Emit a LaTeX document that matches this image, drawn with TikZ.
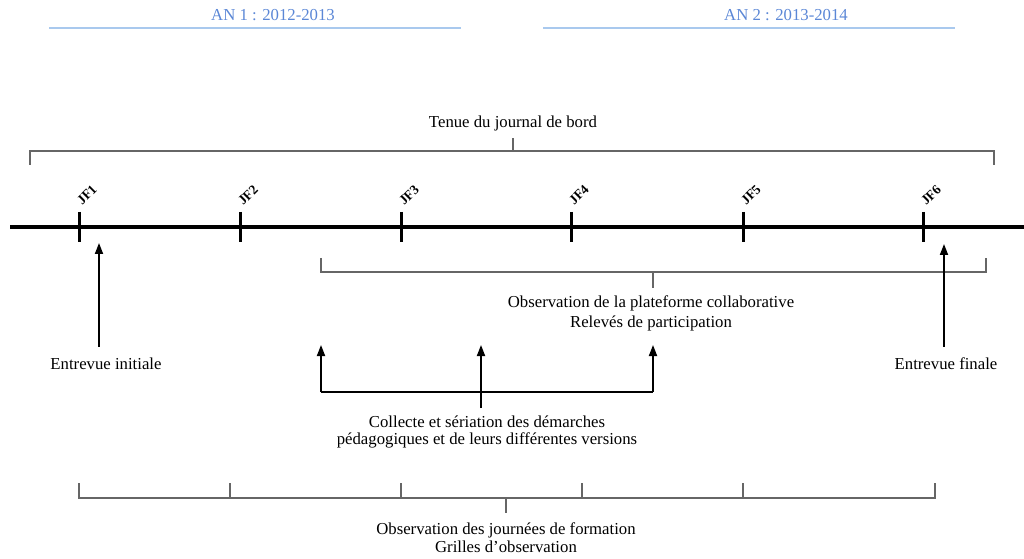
\documentclass[tikz,border=0pt]{standalone}
\usepackage{fontspec}
\setmainfont{Liberation Serif}
\usetikzlibrary{arrows.meta}
\definecolor{anblue}{HTML}{5B87D6}
\definecolor{anline}{HTML}{A9C9EE}
\definecolor{brkgray}{HTML}{666666}
\begin{document}
\begin{tikzpicture}[x=1bp,y=-1bp,
  lbl/.style={font=\fontsize{16.8}{18}\selectfont, inner sep=0pt, align=center},
  yearlbl/.style={lbl, text=anblue},
  yearline/.style={draw=anline, line width=1.2bp},
  brk/.style={draw=brkgray, line width=1.2bp},
  timeline/.style={draw=black, line width=3.5bp},
  jftick/.style={draw=black, line width=3bp},
  jflbl/.style={font=\bfseries\fontsize{13.5}{14}\selectfont, inner sep=0pt, rotate=45},
  uparrow/.style={draw=black, line width=1.8bp, -{Triangle[length=11bp,width=8bp]}},
  stem/.style={draw=black, line width=1.8bp}]
\useasboundingbox (0,0) rectangle (1024,559);

% years
\node[yearlbl] (an1) at (273,15) {AN 1 : 2012-2013};
\node[yearlbl] (an2) at (786,15) {AN 2 : 2013-2014};
\coordinate (an1L) at (49,28); \coordinate (an1R) at (461,28);
\coordinate (an2L) at (543,28); \coordinate (an2R) at (955,28);
\draw[yearline] (an1L) -- (an1R);
\draw[yearline] (an2L) -- (an2R);

% journal de bord
\node[lbl] (journal) at (513,123) {Tenue du journal de bord};
\coordinate (jbL) at (30,165); \coordinate (jbR) at (994,165);
\coordinate (jbM) at (513,151); \coordinate (jbT) at (513,138);
\draw[brk] (jbL) -- (jbL |- jbM) -- (jbR |- jbM) -- (jbR);
\draw[brk] (jbM) -- (jbT);

% timeline
\coordinate (tlL) at (10,227); \coordinate (tlR) at (1024,227);
\draw[timeline] (tlL) -- (tlR);
\foreach \i/\x in {1/79,2/240,3/401,4/571,5/743,6/923}{
  \coordinate (t\i a) at (\x,212);
  \coordinate (t\i b) at (\x,242);
  \draw[jftick] (t\i a) -- (t\i b);
  \node[jflbl] (jf\i) at (\x+8,195) {JF\i};
}

% plateforme
\coordinate (plL) at (321,258); \coordinate (plR) at (986,258);
\coordinate (plM) at (653,272); \coordinate (plB) at (653,288);
\draw[brk] (plL) -- (plL |- plM) -- (plR |- plM) -- (plR);
\draw[brk] (plM) -- (plB);
\node[lbl, font=\fontsize{16.8}{20}\selectfont] (plat) at (651,313) {Observation de la plateforme collaborative\\Relevés de participation};

% entrevues
\node[lbl] (ei) at (106,364) {Entrevue initiale};
\node[lbl] (ef) at (946,364) {Entrevue finale};
\coordinate (eiB) at (99,347); \coordinate (eiT) at (99,243);
\coordinate (efB) at (944,347); \coordinate (efT) at (944,244);
\draw[uparrow] (eiB) -- (eiT);
\draw[uparrow] (efB) -- (efT);

% collecte
\coordinate (c1B) at (321,392); \coordinate (c1T) at (321,345);
\coordinate (c2B) at (481,408); \coordinate (c2T) at (481,345);
\coordinate (c3B) at (653,392); \coordinate (c3T) at (653,345);
\draw[stem] (c1B) -- (c3B);
\draw[uparrow] (c1B) -- (c1T);
\draw[uparrow] (c2B) -- (c2T);
\draw[uparrow] (c3B) -- (c3T);
\node[lbl] (coll) at (487,432) {Collecte et sériation des démarches\\pédagogiques et de leurs différentes versions};

% journees de formation
\coordinate (bjM) at (506,498); \coordinate (bjB) at (506,513);
\foreach \j/\x in {1/79,2/230,3/401,4/582,5/743,6/935}{
  \coordinate (b\j) at (\x,483);
}
\draw[brk] (b1) -- (b1 |- bjM) -- (b6 |- bjM) -- (b6);
\foreach \j in {2,3,4,5}{ \draw[brk] (b\j) -- (b\j |- bjM); }
\draw[brk] (bjM) -- (bjB);
\node[lbl] (form) at (506,538) {Observation des journées de formation\\Grilles d’observation};
\end{tikzpicture}
\end{document}
